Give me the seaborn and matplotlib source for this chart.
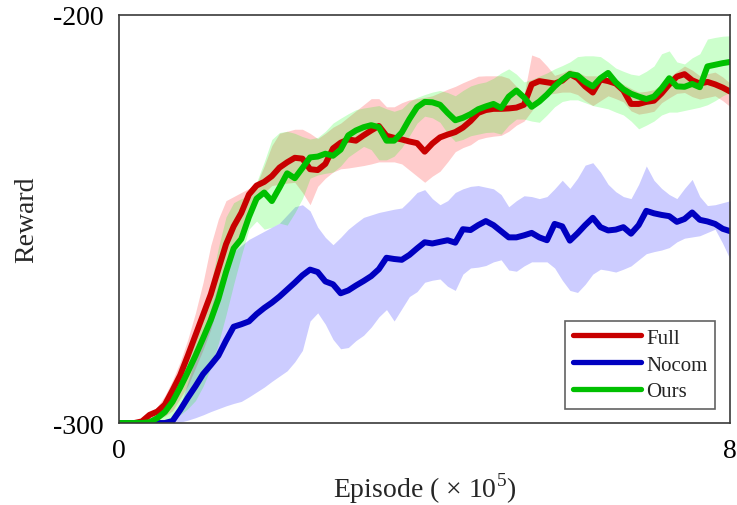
import numpy as np
import pandas as pd
import matplotlib
matplotlib.use("Agg")
import matplotlib.pyplot as plt
import seaborn as sns

# Training episodes (x 10^5)
episodes = np.round(np.arange(0, 8.01, 0.1), 1)

full_mean = [
    -300.0, -300.0, -300.0, -299.6, -298.0, -297.2, -295.5, -292.0, -288.3, -283.5,
    -278.5, -273.5, -268.5, -262.3, -256.2, -251.8, -248.5, -244.0, -241.8, -240.9,
    -239.5, -237.4, -236.1, -235.0, -235.2, -237.8, -238.0, -236.5, -232.7, -231.3,
    -230.5, -230.8, -229.5, -228.3, -227.2, -229.6, -230.1, -230.5, -231.0, -231.4,
    -233.5, -231.5, -230.0, -229.3, -228.7, -227.6, -226.0, -224.0, -223.3, -223.0,
    -223.0, -222.9, -222.7, -222.0, -217.0, -216.2, -216.5, -216.8, -216.1, -214.5,
    -215.5, -217.5, -219.0, -215.8, -216.2, -216.8, -218.5, -221.8, -221.8, -221.3,
    -221.0, -219.2, -217.0, -215.1, -214.5, -216.0, -216.8, -216.4, -217.0, -217.8,
    -218.8,
]
full_low = [
    -300.0, -300.0, -300.0, -300.0, -299.5, -299.0, -298.3, -297.0, -294.0, -290.9,
    -286.5, -282.0, -277.0, -270.5, -263.5, -257.5, -252.5, -249.0, -246.0, -243.5,
    -241.8, -241.5, -241.2, -241.0, -243.5, -246.5, -242.0, -240.0, -238.5, -237.7,
    -237.5, -237.2, -236.9, -236.5, -236.0, -236.0, -236.0, -236.5, -238.0, -239.5,
    -241.0, -239.5, -238.3, -236.0, -233.5, -232.5, -231.8, -230.5, -230.0, -229.7,
    -229.5, -228.5, -227.0, -226.0, -223.5, -220.5, -219.5, -219.2, -218.9, -218.9,
    -219.5, -221.0, -222.2, -221.0, -219.8, -220.5, -221.3, -223.5, -224.3, -224.0,
    -223.6, -221.5, -220.3, -219.2, -219.0, -220.0, -220.6, -220.2, -219.8, -221.0,
    -222.5,
]
full_high = [
    -300.0, -300.0, -300.0, -299.2, -298.0, -296.0, -293.3, -289.5, -285.0, -279.5,
    -273.0, -265.5, -256.5, -250.0, -245.5, -244.5, -243.5, -242.5, -241.5, -237.0,
    -232.0, -229.0, -228.5, -228.0, -228.0, -229.0, -230.3, -229.0, -227.5, -226.5,
    -225.0, -223.5, -222.0, -220.5, -220.5, -222.5, -222.5, -221.5, -220.8, -220.5,
    -220.2, -219.8, -219.0, -218.2, -217.5, -216.6, -215.8, -215.0, -214.9, -214.9,
    -214.9, -215.5, -217.5, -219.5, -209.8, -210.5, -212.5, -214.8, -214.2, -213.3,
    -214.0, -214.9, -214.9, -215.0, -215.5, -216.2, -217.0, -218.0, -218.9, -218.7,
    -218.3, -217.0, -215.3, -213.8, -212.5, -213.5, -214.9, -214.4, -214.0, -215.2,
    -216.8,
]

nocom_mean = [
    -300.0, -300.0, -300.0, -300.0, -300.0, -300.0, -300.0, -299.5, -296.8, -293.8,
    -291.0, -288.0, -285.8, -283.5, -279.8, -276.4, -275.8, -275.1, -273.3, -271.8,
    -270.5, -269.0, -267.3, -265.6, -263.8, -262.4, -263.0, -265.3, -266.0, -268.2,
    -267.5, -266.3, -265.2, -264.0, -262.3, -259.5, -259.8, -260.0, -258.8, -257.2,
    -255.7, -256.0, -255.6, -255.2, -255.8, -252.5, -252.7, -251.5, -250.5, -251.5,
    -253.0, -254.5, -254.5, -254.0, -253.4, -254.5, -255.2, -251.2, -251.8, -255.3,
    -253.5, -251.5, -249.7, -252.0, -252.8, -252.6, -252.0, -253.6, -251.5, -248.0,
    -248.6, -249.0, -249.3, -250.7, -250.0, -248.4, -250.2, -250.6, -251.2, -252.4,
    -253.0,
]
nocom_low = [
    -300.0, -300.0, -300.0, -300.0, -300.0, -300.0, -300.0, -300.0, -299.8, -299.3,
    -298.7, -298.0, -297.2, -296.5, -295.8, -295.2, -294.7, -293.6, -292.4, -291.2,
    -289.8, -288.5, -287.2, -285.0, -282.2, -275.0, -273.0, -275.8, -279.5, -281.8,
    -281.5, -279.8, -278.5, -276.5, -274.0, -272.2, -275.0, -272.0, -269.0, -267.8,
    -265.5, -265.0, -264.7, -266.5, -267.5, -263.5, -262.0, -261.8, -261.4, -260.5,
    -260.0, -262.5, -262.8, -261.5, -260.5, -260.5, -260.5, -262.0, -265.0, -267.5,
    -268.0, -266.0, -263.5, -262.3, -262.6, -263.0, -262.3, -261.5, -260.0, -258.5,
    -258.0, -257.6, -257.0, -255.6, -254.7, -254.4, -254.1, -253.3, -252.5, -256.0,
    -260.0,
]
nocom_high = [
    -300.0, -300.0, -300.0, -300.0, -300.0, -300.0, -300.0, -300.0, -296.0, -290.0,
    -284.0, -278.0, -272.0, -266.0, -261.0, -258.0, -256.5, -255.0, -254.0, -253.0,
    -252.0, -251.0, -249.0, -247.0, -246.5, -248.0, -252.0, -254.5, -256.3, -254.5,
    -252.5, -251.0, -249.6, -249.0, -248.4, -248.0, -247.6, -247.3, -245.5, -243.5,
    -242.8, -245.0, -246.5, -245.5, -243.5, -242.6, -242.0, -241.8, -242.2, -242.6,
    -244.0, -247.0, -245.5, -244.3, -244.5, -245.0, -244.5, -242.6, -240.5, -242.5,
    -240.0, -236.8, -236.2, -238.5, -241.5, -243.3, -244.5, -245.0, -241.5, -237.0,
    -240.5, -242.5, -244.0, -245.0, -242.5, -240.3, -244.5, -246.7, -246.5, -246.0,
    -245.5,
]

ours_mean = [
    -300.0, -300.0, -300.0, -300.0, -299.8, -298.8, -297.3, -294.8, -291.3, -287.5,
    -283.5, -279.2, -274.8, -269.6, -263.0, -257.2, -254.9, -249.5, -245.0, -243.5,
    -245.6, -242.3, -238.8, -240.0, -237.5, -234.9, -234.7, -234.0, -234.5, -233.0,
    -229.5, -228.3, -227.5, -227.0, -227.5, -230.8, -230.8, -228.8, -225.5, -222.6,
    -221.3, -221.4, -222.0, -224.0, -225.8, -225.2, -224.3, -223.1, -222.4, -221.8,
    -222.8, -220.0, -218.5, -220.2, -222.5, -221.2, -219.5, -217.5, -215.8, -214.5,
    -214.8, -216.4, -217.5, -215.5, -214.2, -216.5, -218.2, -219.3, -220.0, -220.6,
    -220.0, -218.0, -215.5, -217.5, -217.6, -216.9, -217.7, -212.6, -212.2, -211.8,
    -211.5,
]
ours_low = [
    -300.0, -300.0, -300.0, -300.0, -300.0, -300.0, -299.5, -298.8, -298.0, -296.5,
    -294.5, -291.0, -286.5, -280.5, -273.5, -266.0, -259.0, -252.5, -250.5, -252.5,
    -252.0, -251.0, -251.5, -248.5, -245.0, -240.0, -239.2, -238.8, -238.5, -237.0,
    -234.8, -233.5, -232.2, -233.0, -235.5, -235.5, -234.6, -232.5, -229.6, -226.5,
    -224.8, -225.2, -226.3, -229.0, -231.0, -230.5, -229.6, -229.2, -228.8, -228.7,
    -229.2, -227.0, -225.5, -225.5, -226.0, -226.3, -224.5, -222.5, -221.2, -220.8,
    -220.8, -221.5, -222.2, -222.6, -223.0, -223.8, -224.5, -226.0, -227.9, -227.0,
    -226.0, -224.5, -223.8, -223.8, -223.4, -223.0, -222.6, -222.0, -221.0, -219.8,
    -218.9,
]
ours_high = [
    -300.0, -300.0, -300.0, -300.0, -299.5, -298.5, -296.5, -293.0, -289.0, -284.5,
    -280.0, -273.5, -266.0, -257.0, -249.5, -246.0, -245.0, -244.3, -241.0, -236.0,
    -230.5, -228.8, -228.5, -229.0, -229.8, -230.4, -230.0, -228.5, -226.5, -225.3,
    -224.2, -223.2, -222.8, -222.5, -222.2, -223.0, -223.6, -223.0, -221.2, -220.2,
    -219.5, -218.9, -218.5, -219.0, -219.8, -218.5, -217.4, -216.8, -216.4, -215.5,
    -214.2, -213.2, -214.5, -216.4, -215.8, -215.0, -214.2, -213.2, -212.4, -211.5,
    -210.2, -210.0, -210.0, -210.2, -211.5, -213.0, -213.8, -214.5, -214.8, -213.8,
    -212.5, -209.5, -208.8, -211.5, -212.0, -210.5, -209.5, -205.9, -205.5, -205.2,
    -205.1,
]

methods = ["Full", "Nocom", "Ours"]
line_colors = {"Full": "#c80000", "Nocom": "#0000c0", "Ours": "#00c000"}
band_colors = {"Full": "#ff0000", "Nocom": "#0000ff", "Ours": "#00ff00"}

curves = {
    "Full": (full_mean, full_low, full_high),
    "Nocom": (nocom_mean, nocom_low, nocom_high),
    "Ours": (ours_mean, ours_low, ours_high),
}

sns.set_theme(style="white")
plt.rcParams["font.family"] = ["Liberation Serif", "DejaVu Serif"]
plt.rcParams["mathtext.fontset"] = "custom"
plt.rcParams["mathtext.rm"] = "Liberation Serif"
plt.rcParams["axes.unicode_minus"] = False

fig = plt.figure(figsize=(7.37, 5.06), dpi=100)
ax = fig.add_axes([0.1615, 0.162, 0.8295, 0.8064])

for name in methods:
    mean, low, high = curves[name]
    df = pd.DataFrame({"Episode": episodes, "Reward": mean})
    ax.fill_between(episodes, low, high, color=band_colors[name],
                    alpha=0.2, linewidth=0)
    sns.lineplot(data=df, x="Episode", y="Reward", ax=ax,
                 color=line_colors[name], linewidth=4.3, label=name,
                 errorbar=None, solid_capstyle="round")

ax.set_xlim(0, 8)
ax.set_ylim(-300, -200)
ax.set_xticks([0, 8])
ax.set_xticklabels(["0", "8"])
ax.set_yticks([-300, -200])
ax.set_yticklabels(["-300", "-200"])
ax.tick_params(axis="both", length=0, labelsize=20, colors="black")
ax.tick_params(axis="x", pad=11)
ax.tick_params(axis="y", pad=11)

ax.set_xlabel("Episode ( \u00d7 10$^{5}$)", fontsize=20, labelpad=5)
ax.set_ylabel("Reward", fontsize=20, labelpad=10)

for side in ["left", "right", "top", "bottom"]:
    ax.spines[side].set_visible(True)
    ax.spines[side].set_color("#3a3a3a")
    ax.spines[side].set_linewidth(1.2)

leg = ax.legend(loc="lower right", bbox_to_anchor=(0.975, 0.035),
                fontsize=15, frameon=True, fancybox=False,
                handlelength=3.3, handletextpad=0.25, labelspacing=0.35,
                borderpad=0.35, borderaxespad=0.0)
leg.get_frame().set_edgecolor("#3a3a3a")
leg.get_frame().set_linewidth(1.2)
for line in leg.get_lines():
    line.set_linewidth(3.8)

fig.savefig("out.png", dpi=100)
